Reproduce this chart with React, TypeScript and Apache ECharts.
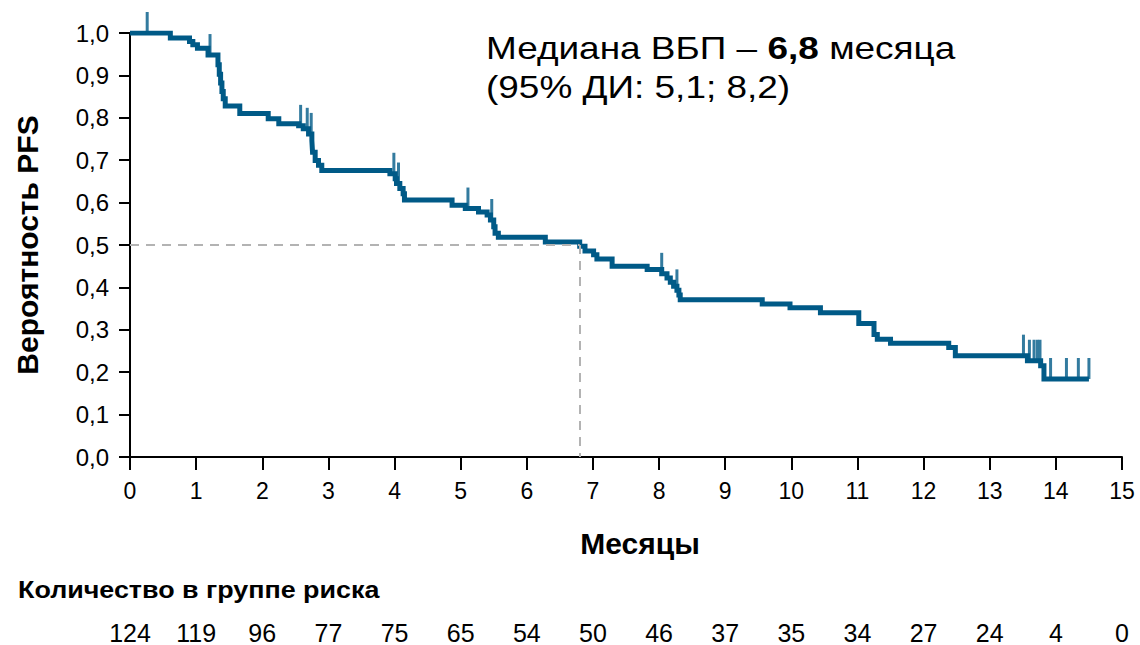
import { useEffect, useRef } from 'react';
import * as echarts from 'echarts';

// Kaplan–Meier step curve: month at which each level begins, and the level
const stepMonths = [
  0, 0.61, 0.9, 0.95, 1.02, 1.18, 1.33, 1.35, 1.37, 1.39, 1.41, 1.44, 1.66, 2.09, 2.25,
  2.55, 2.62, 2.7, 2.75, 2.76, 2.8, 2.85, 2.9, 3.93, 4.01, 4.03, 4.08, 4.13, 4.15, 4.87,
  5.07, 5.27, 5.4, 5.45, 5.5, 5.52, 5.57, 6.28, 6.8, 6.88, 7.01, 7.06, 7.29, 7.82, 8.04,
  8.12, 8.17, 8.22, 8.27, 8.3, 8.32, 9.56, 9.98, 10.44, 11.02, 11.25, 11.3, 11.5, 12.38,
  12.48, 13.57, 13.77, 13.82, 14.5,
];
const stepSurvival = [
  1.0, 0.988, 0.98, 0.972, 0.964, 0.948, 0.925, 0.903, 0.882, 0.862, 0.845, 0.828, 0.81,
  0.798, 0.786, 0.781, 0.774, 0.762, 0.746, 0.719, 0.699, 0.688, 0.676, 0.668, 0.656,
  0.645, 0.633, 0.621, 0.606, 0.594, 0.586, 0.578, 0.571, 0.559, 0.543, 0.528, 0.518,
  0.507, 0.497, 0.486, 0.477, 0.467, 0.45, 0.442, 0.432, 0.422, 0.412, 0.403, 0.393,
  0.382, 0.371, 0.361, 0.352, 0.34, 0.315, 0.289, 0.278, 0.268, 0.258, 0.239, 0.227,
  0.215, 0.184, 0.184,
];
// Censored observations (months)
const censorMonths = [
  0.26, 1.21, 2.58, 2.68, 2.74, 3.99, 4.06, 5.11, 5.47, 8.04, 8.27, 13.51, 13.6, 13.67,
  13.72, 13.76, 13.92, 14.16, 14.34, 14.5,
];
// Number at risk at each whole month 0..15
const riskMonths = [0, 1, 2, 3, 4, 5, 6, 7, 8, 9, 10, 11, 12, 13, 14, 15];
const atRisk = [124, 119, 96, 77, 75, 65, 54, 50, 46, 37, 35, 34, 27, 24, 4, 0];

const medianMonths = 6.8;
const medianLevel = 0.5;
const ciLow = 5.1;
const ciHigh = 8.2;

const FONT = "'Liberation Sans', Arial, sans-serif";
const CURVE = '#005a87';

const comma = (v: number) => v.toFixed(1).replace('.', ',');

const survivalAt = (t: number) => {
  let s = stepSurvival[0];
  for (let i = 0; i < stepMonths.length; i++) {
    if (stepMonths[i] <= t) s = stepSurvival[i];
  }
  return s;
};

export default function App() {
  const ref = useRef<HTMLDivElement>(null);

  useEffect(() => {
    const chart = echarts.init(ref.current!, null, { renderer: 'svg' });
    const curve = stepMonths.map((m, i) => [m, stepSurvival[i]]);
    const censors = censorMonths.map((m) => [m, survivalAt(m)]);

    chart.setOption({
      animation: false,
      backgroundColor: '#ffffff',
      textStyle: { fontFamily: FONT },
      grid: { left: 130, right: 18, top: 33, bottom: 185 },
      xAxis: [
        {
          type: 'value',
          min: 0,
          max: 15,
          interval: 1,
          name: 'Месяцы',
          nameLocation: 'middle',
          nameGap: 71,
          nameTextStyle: {
            fontFamily: FONT,
            fontSize: 30,
            fontWeight: 'bold',
            color: '#000',
            padding: [0, 0, 0, 28],
          },
          axisLine: { show: true, onZero: false, lineStyle: { color: '#000', width: 2 } },
          axisTick: { show: true, length: 13, lineStyle: { color: '#000', width: 2 } },
          splitLine: { show: false },
          axisLabel: { fontFamily: FONT, fontSize: 23, color: '#000', margin: 22 },
        },
        {
          type: 'value',
          position: 'bottom',
          offset: 150,
          min: 0,
          max: 15,
          interval: 1,
          axisLine: { show: false },
          axisTick: { show: false },
          splitLine: { show: false },
          axisLabel: {
            fontFamily: FONT,
            fontSize: 25,
            color: '#000',
            margin: 13,
            showMinLabel: true,
            showMaxLabel: true,
            formatter: (v: number) => {
              const i = riskMonths.indexOf(v);
              return i >= 0 ? String(atRisk[i]) : '';
            },
          },
        },
      ],
      yAxis: {
        type: 'value',
        min: 0,
        max: 1,
        interval: 0.1,
        name: 'Вероятность PFS',
        nameLocation: 'middle',
        nameGap: 88,
        nameTextStyle: { fontFamily: FONT, fontSize: 30, fontWeight: 'bold', color: '#000' },
        axisLine: { show: true, lineStyle: { color: '#000', width: 2 } },
        axisTick: { show: true, length: 11, lineStyle: { color: '#000', width: 2 } },
        splitLine: { show: false },
        axisLabel: {
          fontFamily: FONT,
          fontSize: 24,
          color: '#000',
          margin: 21,
          formatter: (v: number) => comma(v),
        },
      },
      series: [
        {
          type: 'line',
          data: [],
          z: 1,
          silent: true,
          markLine: {
            silent: true,
            symbol: 'none',
            label: { show: false },
            lineStyle: { color: '#b3b3b3', width: 2, type: [9, 7] },
            data: [
              [{ coord: [0, medianLevel] }, { coord: [medianMonths, medianLevel] }],
              [{ coord: [medianMonths, medianLevel] }, { coord: [medianMonths, 0] }],
            ],
          },
        },
        {
          type: 'line',
          step: 'end',
          data: curve,
          z: 3,
          showSymbol: false,
          symbol: 'none',
          lineStyle: { color: CURVE, width: 5, cap: 'butt', join: 'miter' },
        },
        {
          type: 'scatter',
          data: censors,
          z: 4,
          symbol: 'rect',
          symbolSize: [3, 21],
          symbolOffset: [0, -10.5],
          itemStyle: { color: CURVE },
        },
      ],
      graphic: [
        {
          type: 'text',
          left: 486,
          top: 32,
          scaleX: 1.155,
          style: {
            text:
              `{n|Медиана ВБП – }{b|${comma(medianMonths)}}{n| месяца}\n` +
              `{n|(95% ДИ: ${comma(ciLow)}; ${comma(ciHigh)})}`,
            rich: {
              n: { fontFamily: FONT, fontSize: 32, color: '#000', lineHeight: 39 },
              b: { fontFamily: FONT, fontSize: 32, fontWeight: 'bold', color: '#000', lineHeight: 39 },
            },
          },
        },
        {
          type: 'text',
          left: 18,
          top: 578,
          scaleX: 1.12,
          style: {
            text: 'Количество в группе риска',
            fontFamily: FONT,
            fontSize: 24,
            fontWeight: 'bold',
            fill: '#000',
          },
        },
      ],
    });

    return () => chart.dispose();
  }, []);

  return (
    <div
      ref={ref}
      style={{ position: 'fixed', left: 0, top: 0, width: 1140, height: 645, background: '#fff' }}
    />
  );
}
